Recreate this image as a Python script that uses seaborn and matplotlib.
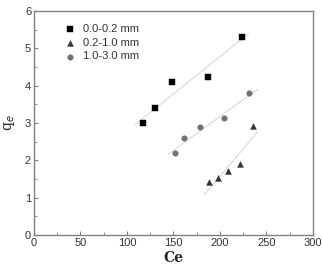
import numpy as np
import pandas as pd
import seaborn as sns
import matplotlib
matplotlib.use('Agg')
import matplotlib.pyplot as plt
from matplotlib.ticker import MultipleLocator

sns.set_style('ticks')
plt.rcParams['font.family'] = ['Liberation Sans', 'DejaVu Sans']

# measured points per particle size class
ce_small = [116.8, 130.4, 148.8, 186.8, 223.9]
qe_small = [3.00, 3.41, 4.11, 4.22, 5.31]
ce_mid = [187.9, 198.0, 209.0, 222.0, 236.0]
qe_mid = [1.41, 1.52, 1.72, 1.91, 2.92]
ce_large = [152.0, 161.0, 178.6, 204.5, 231.4]
qe_large = [2.20, 2.61, 2.90, 3.12, 3.80]

# fitted line ends
fit_small_x = [108.5, 230.7]
fit_small_y = [2.95, 5.39]
fit_mid_x = [183.3, 239.7]
fit_mid_y = [1.08, 2.74]
fit_large_x = [144.5, 240.4]
fit_large_y = [2.17, 3.90]

labels = ['0.0-0.2 mm', '0.2-1.0 mm', '1.0-3.0 mm']

fig = plt.figure(figsize=(3.23, 2.67), dpi=100)
ax = fig.add_axes([0.105, 0.12, 0.864, 0.839])

for fx, fy in [(fit_small_x, fit_small_y), (fit_mid_x, fit_mid_y), (fit_large_x, fit_large_y)]:
    sns.lineplot(x=fx, y=fy, ax=ax, color='#d4d4d4', linewidth=0.7)

sns.scatterplot(x=ce_small, y=qe_small, ax=ax, marker='s', s=14, color='black',
                edgecolor='black', linewidth=0.3, label=labels[0], zorder=3)
sns.scatterplot(x=ce_mid, y=qe_mid, ax=ax, marker='^', s=18, color='#333333',
                edgecolor='#333333', linewidth=0.3, label=labels[1], zorder=3)
sns.scatterplot(x=ce_large, y=qe_large, ax=ax, marker='o', s=16, color='#707070',
                edgecolor='#707070', linewidth=0.3, label=labels[2], zorder=3)

ax.set_xlim(0, 300)
ax.set_ylim(0, 6)
ax.xaxis.set_major_locator(MultipleLocator(50))
ax.xaxis.set_minor_locator(MultipleLocator(25))
ax.yaxis.set_major_locator(MultipleLocator(1))
ax.yaxis.set_minor_locator(MultipleLocator(0.5))
ax.tick_params(which='both', direction='in', color='#808080', top=False, right=False,
               labelsize=8, labelcolor='#333333', pad=2)
ax.tick_params(which='major', length=3, width=0.8)
ax.tick_params(which='minor', length=2, width=0.6)
for sp in ax.spines.values():
    sp.set_color('#808080')
    sp.set_linewidth(1.0)

ax.set_xlabel('Ce', family='DejaVu Serif', fontsize=10, fontweight='bold', labelpad=2)
ax.set_ylabel(r'q$_e$', family='DejaVu Serif', fontsize=10, labelpad=6)

leg = ax.legend(loc='upper left', frameon=False, fontsize=8, handletextpad=0.25,
                borderaxespad=0.3, labelspacing=0.35, bbox_to_anchor=(0.06, 0.978))
for t in leg.get_texts():
    t.set_color('#333333')

fig.savefig('out.png', dpi=100)
